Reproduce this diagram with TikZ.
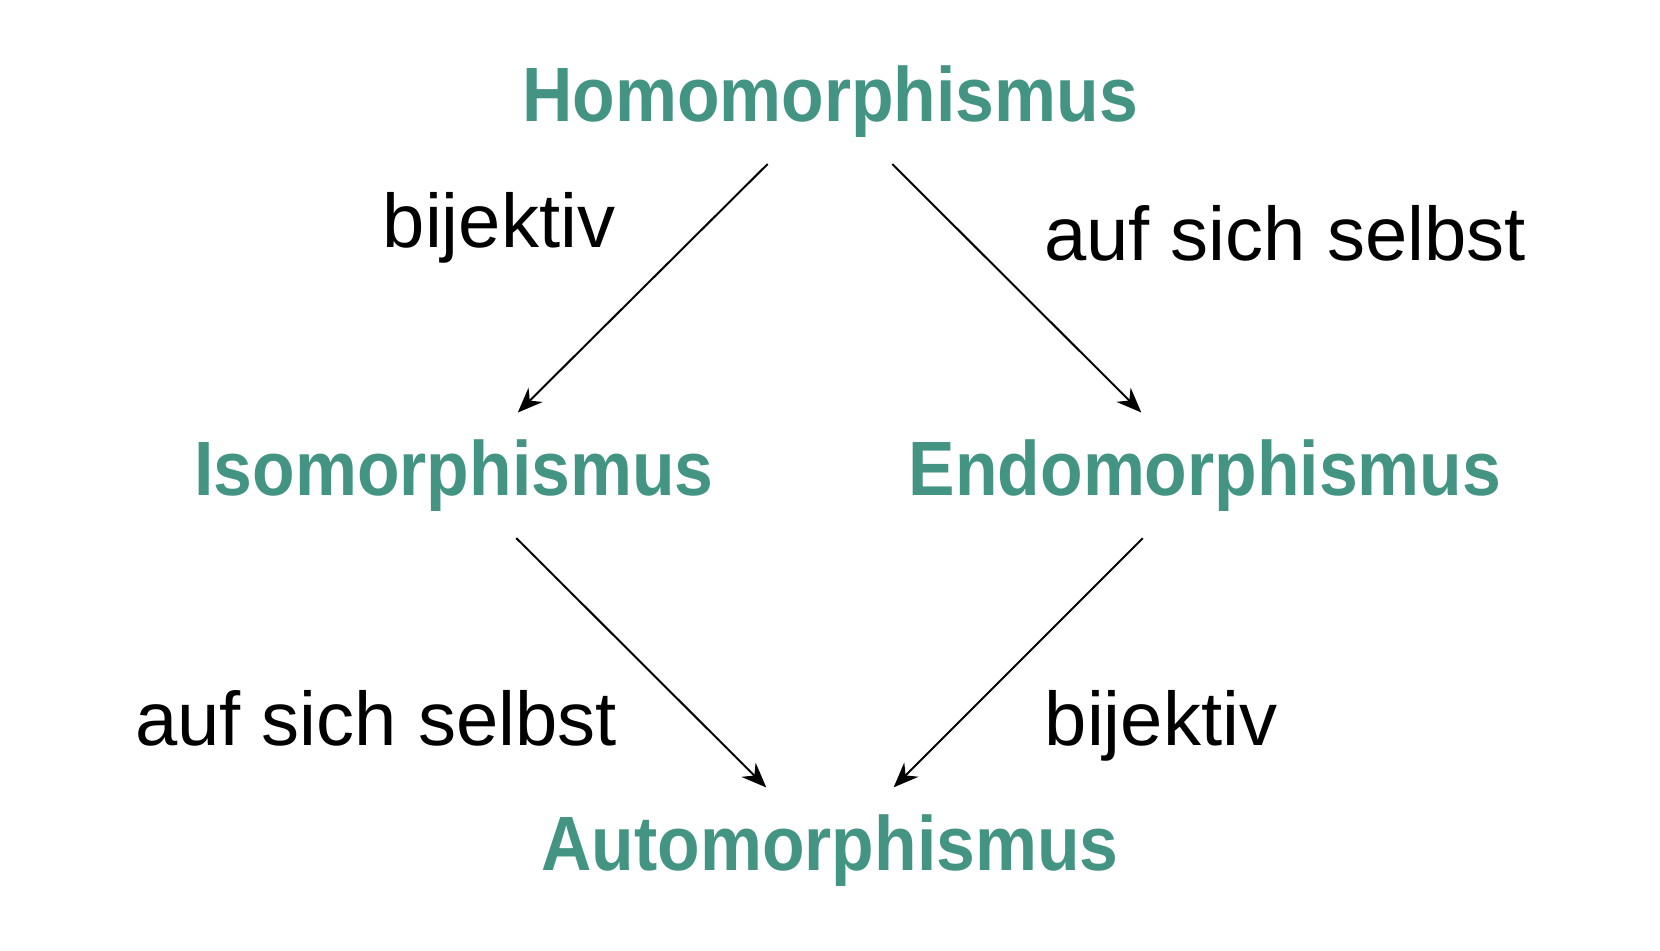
\documentclass[tikz,border=0pt]{standalone}
\usepackage{fontspec}
\setmainfont{Liberation Sans}
\newfontfamily\titlefont[FakeStretch=0.905]{Liberation Sans}
\usetikzlibrary{arrows.meta}
\definecolor{teal1}{RGB}{67,148,131}
\tikzset{
  title/.style={text=teal1, font=\titlefont\bfseries\fontsize{38.5}{40}\selectfont, inner sep=0pt},
  lab/.style={text=black, font=\fontsize{38}{40}\selectfont, inner sep=0pt, anchor=base},
  arr/.style={-{Stealth[length=12.5pt,width=10pt]}, line width=1pt, shorten <=44pt, shorten >=45pt}
}
\begin{document}
\begin{tikzpicture}[x=0.5pt,y=-0.5pt]
\useasboundingbox (0,0) rectangle (1660,950);
\node[title] (homo) at (830,102) {Homomorphismus};
\node[title] (iso) at (454,476) {Isomorphismus};
\node[title] (endo) at (1205,476) {Endomorphismus};
\node[title] (auto) at (830,851) {Automorphismus};
\node[lab] (l1) at (499,247) {bijektiv};
\node[lab] (l2) at (1285,260) {auf sich selbst};
\node[lab] (l3) at (376,745) {auf sich selbst};
\node[lab] (l4) at (1161,745) {bijektiv};
\draw[arr] (homo.center) -- (iso.center);
\draw[arr] (homo.center) -- (endo.center);
\draw[arr] (iso.center) -- (auto.center);
\draw[arr] (endo.center) -- (auto.center);
\end{tikzpicture}
\end{document}
